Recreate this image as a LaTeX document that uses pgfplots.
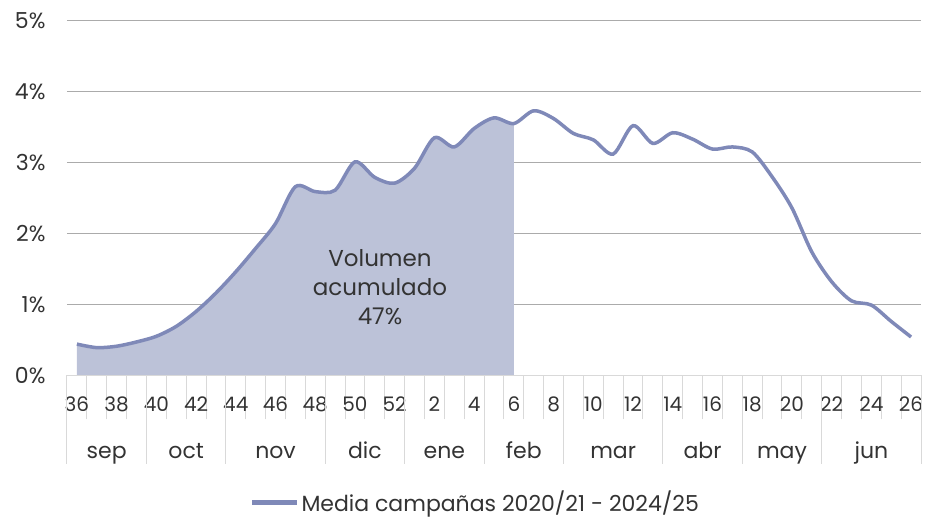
\documentclass[border=0pt]{standalone}
\usepackage{pgfplots}
\pgfplotsset{compat=1.18}
\usepackage{fontspec}
\setmainfont{Poppins}
\definecolor{linec}{HTML}{7F89B8}
\definecolor{fillc}{HTML}{BCC2D8}
\definecolor{gridc}{HTML}{ABABAB}
\definecolor{sepc}{HTML}{D9D9D9}
\definecolor{txtc}{HTML}{333333}
\newcommand{\tf}{\fontsize{22}{26}\selectfont}
\newcommand{\wf}{\fontsize{20}{24}\selectfont}
\begin{document}
\begin{tikzpicture}[font=\tf, text=txtc]
\useasboundingbox (-67pt,-142.7pt) rectangle (859pt,375.3pt);
\begin{axis}[
  at={(0,0)}, anchor=south west,
  scale only axis, width=854pt, height=354.6pt,
  xmin=-0.5, xmax=42.5, ymin=0, ymax=5,
  axis line style={draw=none},
  clip=false,
  ytick={0,1,...,5},
  yticklabel={\pgfmathprintnumber{\tick}\%},
  /pgf/number format/assume math mode=true,
  ymajorgrids, grid style={gridc, line width=1.2pt},
  ytick style={draw=none},
  tick label style={font=\tf, text=txtc},
  yticklabel style={xshift=-18pt},
  xtick={0,2,...,42},
  xticklabels={36,38,40,42,44,46,48,50,52,2,4,6,8,10,12,14,16,18,20,22,24,26},
  minor xtick={-0.5,0.5,...,42.5},
  tick align=outside, xtick pos=lower,
  major tick length=0pt, minor tick length=44pt,
  minor tick style={sepc, line width=1pt},
  xticklabel style={anchor=base, yshift=-36pt, font=\wf},
  legend style={at={(0.478,-0.358)}, anchor=center, draw=none, fill=none, font=\tf, text=txtc},
  legend image code/.code={\draw[linec, line width=5pt] (0pt,0pt) -- (45pt,0pt);},
]
\addplot[draw=none, fill=fillc, smooth, tension=0.5, forget plot] coordinates {
(0,0.44)(1,0.39)(2,0.41)(3,0.47)(4,0.55)(5,0.69)(6,0.90)(7,1.16)(8,1.46)(9,1.79)
(10,2.14)(11,2.66)(12,2.59)(13,2.61)(14,3.01)(15,2.79)(16,2.71)(17,2.92)(18,3.35)(19,3.22)
(20,3.48)(21,3.63)(22,3.55)} \closedcycle;
\draw[sepc, line width=1.5pt] (axis cs:-0.5,0) -- (axis cs:42.5,0);
\pgfplotsinvokeforeach{-0.5,3.5,7.5,12.5,16.5,20.5,24.5,29.5,33.5,37.5,42.5}{
  \draw[sepc, line width=1pt] (axis cs:#1,0) -- ++(0pt,-89pt);
}
\addplot[linec, line width=3.5pt, smooth, tension=0.5] coordinates {
(0,0.44)(1,0.39)(2,0.41)(3,0.47)(4,0.55)(5,0.69)(6,0.90)(7,1.16)(8,1.46)(9,1.79)
(10,2.14)(11,2.66)(12,2.59)(13,2.61)(14,3.01)(15,2.79)(16,2.71)(17,2.92)(18,3.35)(19,3.22)
(20,3.48)(21,3.63)(22,3.55)(23,3.73)(24,3.62)(25,3.41)(26,3.32)(27,3.12)(28,3.52)(29,3.27)
(30,3.42)(31,3.33)(32,3.19)(33,3.22)(34,3.15)(35,2.80)(36,2.36)(37,1.74)(38,1.32)(39,1.05)
(40,0.99)(41,0.76)(42,0.54)};
\addlegendentry{Media campañas 2020/21 - 2024/25}
\node[align=center, font=\fontsize{23}{29}\selectfont, text=txtc] at (axis cs:15.26,1.245) {Volumen\\acumulado\\47\%};
\node[anchor=base, yshift=-83pt] at (axis cs:1.5,0) {sep};
\node[anchor=base, yshift=-83pt] at (axis cs:5.5,0) {oct};
\node[anchor=base, yshift=-83pt] at (axis cs:10,0) {nov};
\node[anchor=base, yshift=-83pt] at (axis cs:14.5,0) {dic};
\node[anchor=base, yshift=-83pt] at (axis cs:18.5,0) {ene};
\node[anchor=base, yshift=-83pt] at (axis cs:22.5,0) {feb};
\node[anchor=base, yshift=-83pt] at (axis cs:27,0) {mar};
\node[anchor=base, yshift=-83pt] at (axis cs:31.5,0) {abr};
\node[anchor=base, yshift=-83pt] at (axis cs:35.5,0) {may};
\node[anchor=base, yshift=-83pt] at (axis cs:40,0) {jun};
\end{axis}
\end{tikzpicture}
\end{document}
